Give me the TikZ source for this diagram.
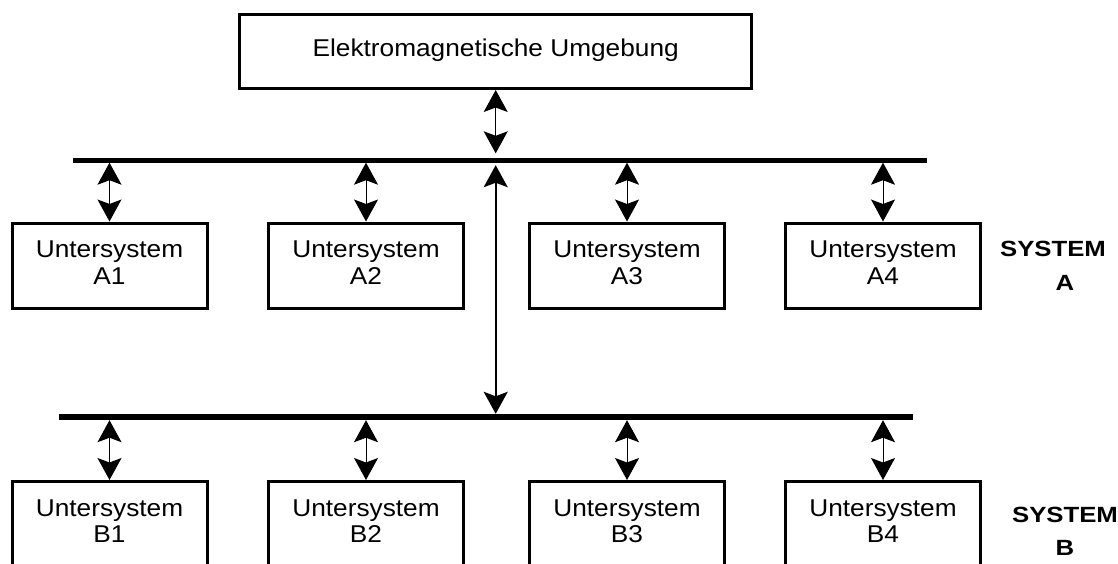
\documentclass[tikz,border=0pt]{standalone}
\usepackage{fontspec}
\setmainfont{Liberation Sans}
\newfontfamily\lblfont{Liberation Sans}[FakeStretch=1.08]
\newfontfamily\sysfont{Liberation Sans}[FakeStretch=1.17]
\usetikzlibrary{arrows.meta}
\begin{document}
\begin{tikzpicture}[x=1pt,y=-1pt,
  tip/.tip={Stealth[length=22pt,width=24pt,inset=4.5pt]},
  box/.style={draw, line width=3pt, minimum width=195pt, minimum height=85pt, inner sep=0pt,
    align=center, font=\lblfont\fontsize{24.3}{26.6}\selectfont},
  envbox/.style={draw, line width=3pt, minimum width=512pt, minimum height=74pt, inner sep=0pt,
    font=\lblfont\fontsize{24.3}{26.6}\selectfont},
  bus/.style={fill=black, inner sep=0pt, minimum width=854pt},
  dar/.style={line width=1pt, tip-tip},
  longar/.style={line width=2pt, tip-tip},
  sys/.style={font=\sysfont\bfseries\fontsize{22}{33.4}\selectfont, align=center, inner sep=0pt}]
\useasboundingbox (0,0) rectangle (1118,563);
\clip (0,0) rectangle (1118,563);

\node[envbox] (env) at (495.7,51.5) {\strut Elektromagnetische Umgebung};

\node[bus, minimum height=5pt] (busA) at (500,160) {};
\node[bus, minimum height=6pt] (busB) at (486,417) {};

\foreach \n/\x in {1/109.5,2/366,3/627,4/883}{
  \node[box] (a\n) at (\x,265.5) {\strut Untersystem\\\strut A\n};
  \node[box] (b\n) at (\x,524) {\strut Untersystem\\\strut B\n};
  \draw[dar] (a\n.north) -- (a\n.north |- busA.south);
  \draw[dar] (b\n.north) -- (b\n.north |- busB.south);
}

\draw[dar, shorten >=4pt] (env.south) -- (env.south |- busA.north);
\draw[longar, shorten <=2.5pt] (env.south |- busA.south) -- (env.south |- busB.north);

\node[sys] (sysA) at (1053,266) {SYSTEM\\\hspace*{24pt}A};
\node[sys] (sysB) at (1065,531.5) {SYSTEM\\B};
\end{tikzpicture}
\end{document}
